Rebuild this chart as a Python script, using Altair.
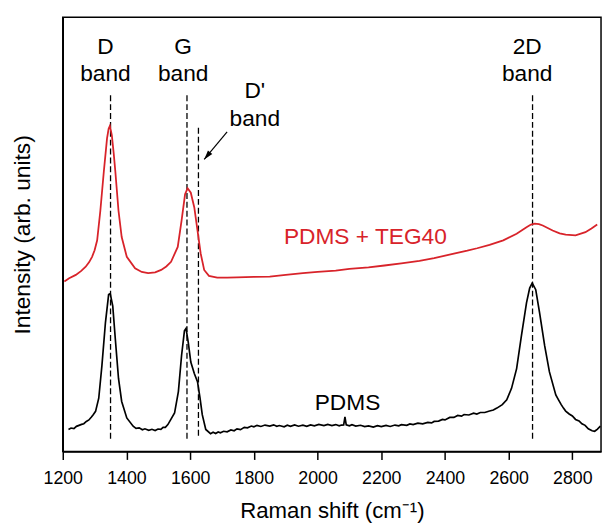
import altair as alt
import pandas as pd

# ---- spectra (x: Raman shift cm-1, y: arb. units) ----
red_x = [1205, 1220, 1241, 1258, 1272, 1283, 1292, 1300, 1308, 1318, 1329, 1339, 1344, 1348,
         1354, 1360, 1365, 1375, 1385, 1401, 1427, 1448, 1468, 1490, 1509, 1525, 1540, 1561,
         1573, 1584, 1592, 1602, 1613, 1623, 1633, 1644, 1659, 1685, 1716, 1747, 1800, 1850,
         1900, 1954, 2000, 2057, 2100, 2160, 2210, 2263, 2320, 2366, 2428, 2470, 2501, 2540,
         2583, 2625, 2656, 2670, 2682, 2695, 2707, 2738, 2760, 2779, 2810, 2841, 2860, 2878]
red_y = [172.3, 175.5, 179, 183, 187.3, 192, 197.3, 204, 214, 244, 284, 317.3, 327, 330,
         320.7, 302, 284, 244, 217.3, 197.3, 185.7, 182, 180.7, 181.5, 184, 187.5, 192.3, 207.3,
         234, 260.7, 266.7, 262.3, 247.3, 224, 200.7, 184, 178, 176.3, 176.3, 176.5, 177, 177.3,
         179, 180.7, 182, 183.3, 185, 186.7, 188.5, 190.7, 193.3, 196, 200.5, 203.5, 206, 209.5,
         214, 220.7, 227.3, 230, 231, 230.5, 229, 224, 221, 219.7, 219, 222.3, 226, 230]

black_x = [1218, 1226, 1235, 1243, 1251, 1259, 1266, 1274, 1282, 1290, 1295, 1303, 1313, 1323,
           1334, 1344, 1349, 1357, 1365, 1375, 1385, 1401, 1421, 1430, 1440, 1450, 1458, 1470,
           1480, 1490, 1499, 1508, 1515, 1522, 1530, 1551, 1563, 1573, 1582, 1587, 1594, 1602,
           1613, 1623, 1631, 1638, 1649, 1664, 1672, 1680, 1688, 1695, 1705, 1716, 1728, 1738,
           1747, 1758, 1770, 1780, 1792, 1800, 1810, 1822, 1835, 1850, 1862, 1872, 1880, 1895,
           1905, 1915, 1928, 1940, 1954, 1966, 1978, 1990, 2004, 2020, 2032, 2045, 2057, 2068,
           2075, 2082, 2086, 2090, 2100, 2108, 2120, 2135, 2148, 2160, 2175, 2188, 2200, 2215,
           2228, 2243, 2255, 2263, 2280, 2290, 2300, 2315, 2330, 2346, 2358, 2366, 2380, 2392,
           2400, 2415, 2428, 2440, 2452, 2460, 2475, 2490, 2500, 2511, 2525, 2540, 2552, 2563,
           2580, 2594, 2609, 2625, 2640, 2656, 2666, 2674, 2685, 2697, 2713, 2728, 2748, 2757,
           2765, 2772, 2779, 2790, 2800, 2810, 2821, 2830, 2840, 2850, 2862, 2870, 2878, 2888]
black_y = [22.3, 23.8, 23.2, 25.5, 26.5, 27.5, 28.2, 30.5, 32, 35, 37, 40.7, 54, 87.3,
           130.7, 159, 160, 147.3, 114, 74, 50.7, 34, 25.7, 23.5, 24, 22, 23, 21.5,
           22.5, 21.2, 22.8, 22.5, 24.5, 24.5, 27.3, 39, 60.7, 97.3, 122.3, 124.7, 110.7, 90.7,
           79, 70.7, 54, 37.3, 22.3, 18, 19.5, 18.2, 19.8, 19, 20.5, 20, 21.8, 21,
           23, 22.2, 24.5, 24, 25.8, 25, 26.5, 25.4, 26.8, 25.7, 27, 25.5, 26.3, 25,
           26.6, 25.5, 26.9, 25.6, 26.7, 25.5, 27, 26, 27.4, 26.2, 27.5, 26.3, 27.3, 26,
           26.8, 27, 35, 27, 26, 27.2, 25.8, 26.6, 25.2, 26, 24.8, 26.2, 25.2, 26.5,
           25.4, 26.8, 26, 27.2, 26.5, 28, 27.2, 28.8, 28, 29.5, 29, 30.5, 30.8, 32.5,
           32, 34.5, 34.5, 36.5, 35.8, 37.5, 37, 38.8, 38, 39.5, 39.5, 41, 42, 44,
           47.5, 52.3, 64, 84, 117.3, 150.7, 165.7, 170.7, 164, 140.7, 107.3, 80.7, 57.3, 52,
           47.5, 44, 41, 38, 36, 32.5, 31, 28, 26.5, 23, 21, 20.5, 22.5, 25.7]

# ---- annotations ----
band_names = ["D\nband", "G\nband", "D'\nband", "2D\nband"]
band_label_x = [1334, 1578, 1803, 2658]
band_label_y = [403, 403, 358, 403]
band_line_x = [1350, 1590, 1626, 2675]
band_line_top = [361, 361, 328, 361]
band_line_bottom = [13, 13, 13, 13]

arrow_x = [1716, 1644]
arrow_y = [324, 296]

sample_names = ["PDMS + TEG40", "PDMS"]
sample_x = [2150, 2094]
sample_y = [210, 42]
RED = "#d8232a"
sample_colors = [RED, "black"]

FONT = "Liberation Sans"
ANN_SIZE = 23

red_df = pd.DataFrame({"x": red_x, "y": red_y})
black_df = pd.DataFrame({"x": black_x, "y": black_y})
band_df = pd.DataFrame({"name": band_names, "lx": band_label_x, "ly": band_label_y,
                        "x": band_line_x, "top": band_line_top, "bottom": band_line_bottom})
arrow_df = pd.DataFrame({"x": arrow_x, "y": arrow_y, "order": [0, 1]})
tip_df = arrow_df.iloc[[1]]
sample_df = pd.DataFrame({"name": sample_names, "x": sample_x, "y": sample_y, "c": sample_colors})

xscale = alt.Scale(domain=[1200, 2890], nice=False, zero=False)
yscale = alt.Scale(domain=[0, 440], nice=False, zero=False)

xaxis = alt.Axis(
    values=list(range(1200, 2900, 100)),
    format="d",
    labelExpr="datum.value % 200 === 0 ? datum.label : ''",
    tickSize={"condition": {"test": "datum.value % 200 === 0", "value": 8}, "value": 4},
    labelFontSize=18,
    labelPadding=10,
    labelOverlap=False,
    labelFlush=False,
    title="Raman shift (cm⁻¹)",
    titleFontSize=22.5,
    titleFontWeight="normal",
    titlePadding=13,
    grid=False,
)
yaxis = alt.Axis(
    ticks=False,
    labels=False,
    title="Intensity (arb. units)",
    titleFontSize=23,
    titleFontWeight="normal",
    titlePadding=29,
    grid=False,
)

X = alt.X("x:Q", scale=xscale, axis=xaxis)
Y = alt.Y("y:Q", scale=yscale, axis=yaxis)

red_line = alt.Chart(red_df).mark_line(color=RED, strokeWidth=1.8).encode(x=X, y=Y, order="x:Q")
black_line = alt.Chart(black_df).mark_line(color="black", strokeWidth=1.7).encode(x=X, y=Y, order="x:Q")

rules = alt.Chart(band_df).mark_rule(color="black", strokeDash=[6, 3], strokeWidth=1.3).encode(
    x=alt.X("x:Q", scale=xscale),
    y=alt.Y("top:Q", scale=yscale),
    y2="bottom:Q",
)

band_text = alt.Chart(band_df).mark_text(
    fontSize=ANN_SIZE, font=FONT, lineBreak="\n", lineHeight=28, align="center", baseline="alphabetic",
    color="black",
).encode(x=alt.X("lx:Q", scale=xscale), y=alt.Y("ly:Q", scale=yscale), text="name:N")

arrow_line = alt.Chart(arrow_df).mark_line(color="black", strokeWidth=1.2).encode(
    x=alt.X("x:Q", scale=xscale), y=alt.Y("y:Q", scale=yscale), order="order:Q"
)
arrow_head = alt.Chart(tip_df).mark_point(
    shape="M0,0L0.3,1L-0.3,1Z", filled=True, size=360, angle=219.5, color="black", opacity=1,
).encode(x=alt.X("x:Q", scale=xscale), y=alt.Y("y:Q", scale=yscale))

sample_text = alt.Chart(sample_df).mark_text(
    fontSize=ANN_SIZE, font=FONT, align="center", baseline="alphabetic"
).encode(
    x=alt.X("x:Q", scale=xscale), y=alt.Y("y:Q", scale=yscale), text="name:N",
    color=alt.Color("c:N", scale=None),
)

chart = alt.layer(
    rules, red_line, black_line, band_text, arrow_line, arrow_head, sample_text
).properties(
    width=545.5,
    height=440,
    autosize=alt.AutoSizeParams(type="none"),
    padding={"left": 55.5, "top": 6, "right": 2, "bottom": 70},
).configure_view(
    stroke="black", strokeWidth=1.5
).configure_axis(
    domainColor="black", domainWidth=1.5, tickColor="black", tickWidth=1.5,
    labelColor="black", titleColor="black", labelFont=FONT, titleFont=FONT,
)

chart.save("out.html", embed_options={"renderer": "svg", "actions": False})
